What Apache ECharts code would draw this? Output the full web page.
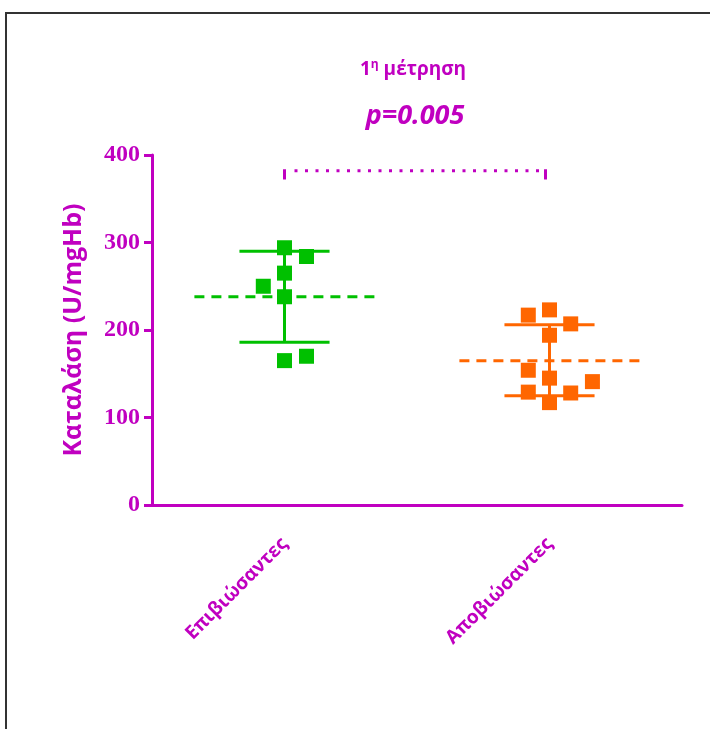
<!DOCTYPE html>
<html><head><meta charset="utf-8">
<script src="https://cdn.jsdelivr.net/npm/echarts@6/dist/echarts.min.js"></script>
<style>html,body{margin:0;padding:0;background:#fff}#c{width:710px;height:729px}</style>
</head><body><div id="c"></div>
<script>
var groupNames = ['Επιβιώσαντες', 'Αποβιώσαντες'];
var yTicks = [0, 100, 200, 300, 400];
var survivorsVals = [294, 284, 265, 250, 238, 165, 170];
var survivorsJitter = [0, 0.083, 0, -0.08, 0, 0, 0.083];
var deceasedVals = [217, 223, 207, 194, 154, 145, 141, 129, 128, 117];
var deceasedJitter = [-0.08, 0, 0.08, 0, -0.08, 0, 0.162, -0.08, 0.08, 0];
var means = [238, 165];
var sdUpper = [290, 206];
var sdLower = [186, 125];
var bracketY = [382, 372];
var pText = 'p=0.005';
var yName = 'Καταλάση (U/mgHb)';

var MAG = '#c000c0';
var colors = ['#00c000', '#ff6600'];

function pts(vals, jit, center) {
  return vals.map(function (v, i) { return [center + jit[i], v]; });
}
var chart = echarts.init(document.getElementById('c'));
var statsData = means.map(function (m, i) { return [i + 0.5, m, sdUpper[i], sdLower[i], i]; });

chart.setOption({
  backgroundColor: '#fff',
  animation: false,
  graphic: [{
    type: 'rect', shape: { x: 6, y: 13, width: 760, height: 780 },
    style: { fill: 'none', stroke: '#333', lineWidth: 2 }, silent: true
  }],
  title: [{
    text: '{a|1}{b|η}{a| μέτρηση}',
    left: 408, top: 54, textAlign: 'center',
    textStyle: { rich: {
      a: { fontFamily: 'Open Sans', fontWeight: 'bold', fontSize: 19, color: MAG },
      b: { fontFamily: 'Open Sans', fontWeight: 'bold', fontSize: 12, color: MAG, verticalAlign: 'top', padding: [0, 0, 9, 0] }
    } }
  }, {
    text: pText, left: 410, top: 98, textAlign: 'center',
    textStyle: { fontFamily: 'Open Sans', fontWeight: 'bold', fontStyle: 'italic', fontSize: 27, color: MAG }
  }],
  grid: { left: 152, right: 28, top: 155, bottom: 224 },
  xAxis: [{
    type: 'category', data: groupNames, boundaryGap: true,
    axisLine: { lineStyle: { color: MAG, width: 3 } },
    axisTick: { alignWithLabel: true, length: 9, lineStyle: { color: MAG, width: 3 } },
    axisLabel: { rotate: 45, margin: 36, color: MAG, fontFamily: 'Open Sans', fontWeight: 'bold', fontSize: 19 },
    splitLine: { show: false }
  }, {
    type: 'value', min: 0, max: 2, show: false, position: 'bottom'
  }],
  yAxis: {
    type: 'value', min: 0, max: 400, interval: 100,
    name: yName, nameLocation: 'middle', nameGap: 66,
    nameTextStyle: { color: MAG, fontFamily: 'Open Sans', fontWeight: 'bold', fontSize: 25 },
    axisLine: { show: true, lineStyle: { color: MAG, width: 3 } },
    axisTick: { show: true, length: 8, lineStyle: { color: MAG, width: 3 } },
    axisLabel: { color: MAG, fontFamily: 'Liberation Serif', fontWeight: 'bold', fontSize: 24, margin: 12,
      formatter: function (v) { return yTicks.indexOf(v) >= 0 ? String(v) : ''; } },
    splitLine: { show: false }
  },
  series: [{
    type: 'custom', xAxisIndex: 1, z: 2,
    data: statsData,
    renderItem: function (params, api) {
      var cx = api.value(0), m = api.value(1), hi = api.value(2), lo = api.value(3), idx = api.value(4);
      var col = colors[idx];
      var pHi = api.coord([cx, hi]), pLo = api.coord([cx, lo]);
      var hiL = api.coord([cx - 0.17, hi]), hiR = api.coord([cx + 0.17, hi]);
      var loL = api.coord([cx - 0.17, lo]), loR = api.coord([cx + 0.17, lo]);
      var mL = api.coord([cx - 0.34, m]), mR = api.coord([cx + 0.34, m]);
      var st = { stroke: col, lineWidth: 3 };
      return { type: 'group', children: [
        { type: 'line', shape: { x1: pHi[0], y1: pHi[1], x2: pLo[0], y2: pLo[1] }, style: st },
        { type: 'line', shape: { x1: hiL[0], y1: hiL[1], x2: hiR[0], y2: hiR[1] }, style: st },
        { type: 'line', shape: { x1: loL[0], y1: loL[1], x2: loR[0], y2: loR[1] }, style: st },
        { type: 'line', shape: { x1: mL[0], y1: mL[1], x2: mR[0], y2: mR[1] },
          style: { stroke: col, lineWidth: 3, lineDash: [10, 7] } }
      ] };
    }
  }, {
    type: 'custom', xAxisIndex: 1, z: 2,
    data: [[0.5, 1.485, bracketY[0], bracketY[1]]],
    renderItem: function (params, api) {
      var a = api.coord([api.value(0), api.value(2)]), b = api.coord([api.value(1), api.value(2)]);
      var a2 = api.coord([api.value(0), api.value(3)]), b2 = api.coord([api.value(1), api.value(3)]);
      return { type: 'group', children: [
        { type: 'line', shape: { x1: a[0] + 10, y1: a[1], x2: b[0] - 4, y2: b[1] },
          style: { stroke: MAG, lineWidth: 3, lineDash: [3, 7.5] } },
        { type: 'line', shape: { x1: a[0], y1: a[1] - 1.5, x2: a2[0], y2: a2[1] }, style: { stroke: MAG, lineWidth: 3 } },
        { type: 'line', shape: { x1: b[0], y1: b[1] - 1.5, x2: b2[0], y2: b2[1] }, style: { stroke: MAG, lineWidth: 3 } }
      ] };
    }
  }, {
    type: 'scatter', xAxisIndex: 1, z: 5, symbol: 'rect', symbolSize: 15,
    itemStyle: { color: colors[0], opacity: 1 }, data: pts(survivorsVals, survivorsJitter, 0.5)
  }, {
    type: 'scatter', xAxisIndex: 1, z: 5, symbol: 'rect', symbolSize: 15,
    itemStyle: { color: colors[1], opacity: 1 }, data: pts(deceasedVals, deceasedJitter, 1.5)
  }]
});
</script></body></html>
